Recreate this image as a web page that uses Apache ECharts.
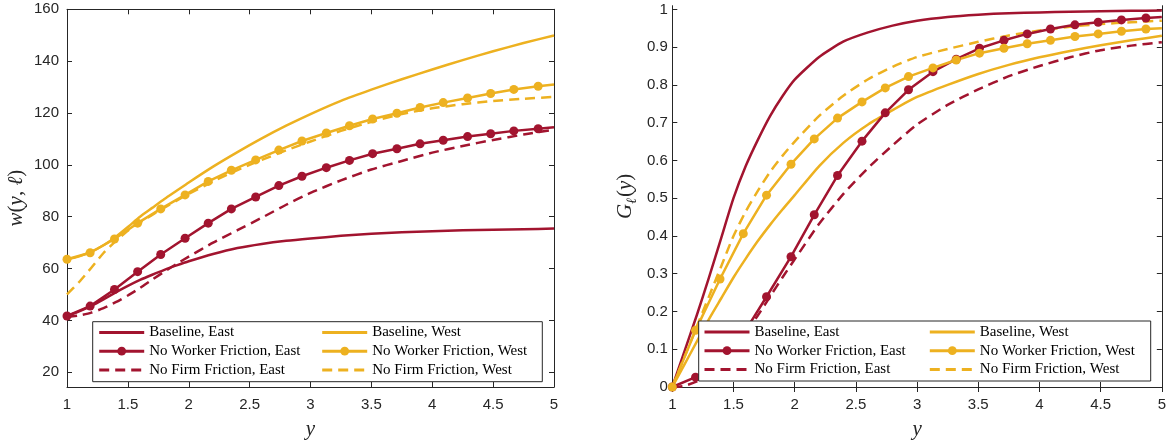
<!DOCTYPE html>
<html>
<head>
<meta charset="utf-8">
<script src="https://cdn.jsdelivr.net/npm/echarts@6/dist/echarts.min.js"></script>
<style>
  html, body { margin: 0; padding: 0; background: #fff; }
  #chart { width: 1169px; height: 445px; }
</style>
</head>
<body>
<div id="chart"></div>
<script>
// ---------- DATA ----------
const seriesNames = ['Baseline, East', 'No Worker Friction, East', 'No Firm Friction, East',
                     'Baseline, West', 'No Worker Friction, West', 'No Firm Friction, West'];

// x positions of the marker series (last point = line end, drawn without marker)
const markX = [1.00, 1.19, 1.39, 1.58, 1.77, 1.97, 2.16, 2.35, 2.55, 2.74, 2.93, 3.13, 3.32, 3.51, 3.71, 3.90, 4.09, 4.29, 4.48, 4.67, 4.87, 5.00];
// x grid of the smooth curves
const gridX = [1, 1.1, 1.2, 1.3, 1.4, 1.5, 1.6, 1.7, 1.8, 1.9, 2, 2.2, 2.4, 2.6, 2.8, 3, 3.25, 3.5, 3.75, 4, 4.25, 4.5, 4.75, 5];

// Left panel: w(y, l)
const wBaseEast   = [41.7, 43.5, 45.6, 48.1, 50.8, 53.3, 55.6, 57.6, 59.5, 61.2, 62.8, 65.6, 67.9, 69.5, 70.7, 71.6, 72.6, 73.4, 74.0, 74.4, 74.8, 75.0, 75.2, 75.4];
const wNoWorkEast = [41.7, 45.5, 51.9, 58.8, 65.4, 71.7, 77.5, 83.0, 87.6, 92.0, 95.6, 98.9, 101.7, 104.3, 106.2, 108.1, 109.5, 110.9, 112.0, 113.1, 113.9, 114.5];
const wNoFirmEast = [41.3, 41.9, 43.0, 44.7, 47.0, 49.6, 52.5, 55.7, 58.8, 61.8, 64.6, 70.0, 74.8, 79.6, 84.6, 89.2, 94.0, 98.2, 101.5, 104.7, 107.3, 109.6, 111.7, 113.6];
const wBaseWest   = [63.5, 64.7, 66.5, 69.0, 72.2, 76.0, 80.0, 83.4, 86.8, 90.0, 93.2, 99.3, 104.9, 110.2, 115.1, 119.6, 124.7, 129.0, 133.0, 136.8, 140.4, 143.8, 147.0, 149.9];
const wNoWorkWest = [63.6, 66.1, 71.4, 77.5, 83.0, 88.4, 93.6, 97.9, 101.9, 105.7, 109.2, 112.3, 115.1, 117.7, 119.9, 122.1, 124.0, 125.8, 127.5, 129.1, 130.3, 131.0];
const wNoFirmWest = [50.0, 54.8, 60.3, 66.0, 70.6, 74.6, 77.8, 80.7, 83.5, 86.2, 88.8, 93.6, 98.0, 101.9, 105.6, 109.0, 113.1, 116.6, 119.6, 121.8, 123.4, 124.6, 125.5, 126.2];

// Right panel: G_l(y)
const gBaseEast   = [0, 0.095, 0.19, 0.29, 0.395, 0.50, 0.585, 0.655, 0.718, 0.77, 0.814, 0.874, 0.915, 0.939, 0.957, 0.970, 0.980, 0.986, 0.990, 0.992, 0.994, 0.995, 0.996, 0.997];
const gNoWorkEast = [0, 0.026, 0.06, 0.14, 0.239, 0.345, 0.456, 0.560, 0.651, 0.726, 0.787, 0.835, 0.868, 0.897, 0.918, 0.935, 0.948, 0.959, 0.966, 0.972, 0.977, 0.980];
const gNoFirmEast = [0, 0.003, 0.015, 0.035, 0.065, 0.10, 0.145, 0.19, 0.24, 0.29, 0.338, 0.432, 0.512, 0.58, 0.64, 0.695, 0.747, 0.788, 0.823, 0.850, 0.873, 0.892, 0.904, 0.913];
const gBaseWest   = [0, 0.06, 0.12, 0.18, 0.235, 0.29, 0.34, 0.387, 0.43, 0.47, 0.508, 0.585, 0.647, 0.695, 0.733, 0.768, 0.800, 0.829, 0.853, 0.873, 0.890, 0.905, 0.918, 0.930];
const gNoWorkWest = [0, 0.150, 0.286, 0.406, 0.508, 0.590, 0.657, 0.712, 0.755, 0.792, 0.822, 0.845, 0.866, 0.884, 0.897, 0.909, 0.918, 0.928, 0.935, 0.942, 0.948, 0.950];
const gNoFirmWest = [0, 0.08, 0.16, 0.24, 0.32, 0.40, 0.465, 0.52, 0.57, 0.612, 0.65, 0.718, 0.772, 0.815, 0.848, 0.874, 0.895, 0.914, 0.931, 0.944, 0.954, 0.961, 0.966, 0.970];

const wTicks = [20, 40, 60, 80, 100, 120, 140, 160];
const gTicks = [0, 0.1, 0.2, 0.3, 0.4, 0.5, 0.6, 0.7, 0.8, 0.9, 1];

// ---------- STYLE ----------
const RED = '#A2142F';
const YEL = '#EDB120';
const AX = '#262626';
const LW = 2.5;
const DASH = [10, 6];

function curve(name, vals, color, dashed, gi) {
  return {
    name, type: 'line', xAxisIndex: gi * 2, yAxisIndex: gi * 2,
    data: gridX.map((x, i) => [x, vals[i]]),
    showSymbol: false, symbol: 'none', smooth: 0.2,
    lineStyle: { color, width: LW, type: dashed ? DASH : 'solid', join: 'round' },
    itemStyle: { color },
    emphasis: { disabled: true }, z: 2
  };
}
function markerCurve(name, vals, color, gi) {
  return {
    name, type: 'line', xAxisIndex: gi * 2, yAxisIndex: gi * 2,
    data: markX.map((x, i) => i < markX.length - 1 ? [x, vals[i]] : { value: [x, vals[i]], symbol: 'none' }),
    symbol: 'circle', symbolSize: 9, showSymbol: true, showAllSymbol: true,
    lineStyle: { color, width: LW, join: 'round' },
    itemStyle: { color },
    emphasis: { disabled: true }, z: 3
  };
}

const tickLabel = { color: AX, fontFamily: 'Liberation Sans', fontSize: 15 };
const mathName = {
  i: { fontFamily: 'Liberation Serif', fontStyle: 'italic', fontSize: 21, color: AX, lineHeight: 28 },
  r: { fontFamily: 'Liberation Serif', fontSize: 21, color: AX, lineHeight: 28 },
  s: { fontFamily: 'Liberation Serif', fontStyle: 'italic', fontSize: 14, color: AX, lineHeight: 28, verticalAlign: 'bottom', padding: [0, 1, 0, 0] }
};

function xAxes(gi) {
  return [
    { type: 'value', gridIndex: gi, min: 1, max: 5, interval: 0.5, position: 'bottom',
      axisLine: { lineStyle: { color: AX, width: 1 } },
      axisTick: { inside: true, length: 5, lineStyle: { color: AX } },
      axisLabel: Object.assign({ margin: 10 }, tickLabel),
      splitLine: { show: false },
      name: 'y', nameLocation: 'middle', nameGap: 32,
      nameTextStyle: { fontFamily: 'Liberation Serif', fontStyle: 'italic', fontSize: 21, color: AX } },
    { type: 'value', gridIndex: gi, min: 1, max: 5, interval: 0.5, position: 'top',
      axisLine: { lineStyle: { color: AX, width: 1 } },
      axisTick: { inside: true, length: 5, lineStyle: { color: AX } },
      axisLabel: { show: false }, splitLine: { show: false } }
  ];
}
function yAxes(gi, min, max, ticks, name, nameGap, labelMargin) {
  return [
    { type: 'value', gridIndex: gi, min, max, position: 'left',
      axisLine: { show: true, lineStyle: { color: AX, width: 1 } },
      axisTick: { show: true, inside: true, length: 5, lineStyle: { color: AX }, customValues: ticks },
      axisLabel: Object.assign({ margin: labelMargin, customValues: ticks }, tickLabel),
      splitLine: { show: false },
      name, nameLocation: 'middle', nameGap, nameRotate: 90,
      nameTextStyle: { rich: mathName } },
    { type: 'value', gridIndex: gi, min, max, position: 'right',
      axisLine: { show: true, lineStyle: { color: AX, width: 1 } },
      axisTick: { show: true, inside: true, length: 5, lineStyle: { color: AX }, customValues: ticks },
      axisLabel: { show: false }, splitLine: { show: false } }
  ];
}

// legend entries: lines without marker get an invisible symbol
function legendData(names) {
  return names.map(n => n.indexOf('No Worker') === 0 ? { name: n } : { name: n, itemStyle: { opacity: 0 } });
}
function legend(left, top, names) {
  return {
    orient: 'vertical', left, top, padding: 0, itemGap: 3.7,
    itemWidth: 45, itemHeight: 11, z: 20, selectedMode: false,
    data: legendData(names),
    lineStyle: { width: 3 },
    textStyle: { fontFamily: 'Liberation Serif', fontSize: 15, color: '#000', lineHeight: 15 }
  };
}

const option = {
  animation: false,
  backgroundColor: '#fff',
  grid: [
    { left: 67, top: 9.3, width: 487, height: 384 },
    { left: 672.3, top: 5.7, width: 490.7, height: 387.6 }
  ],
  xAxis: [...xAxes(0), ...xAxes(1)],
  yAxis: [
    ...yAxes(0, 14.3, 160, wTicks, '{i|w}{r|(}{i|y}{r|, }{i|ℓ}{r|)}', 37, 8),
    ...yAxes(1, 0, 1.0097, gTicks, '{i|G}{s|ℓ}{r|(}{i|y}{r|)}', 33, 4.5)
  ],
  legend: [
    legend(97.7, 325, seriesNames.slice(0, 3)),
    legend(320.7, 325, seriesNames.slice(3)),
    legend(703, 324.5, seriesNames.slice(0, 3)),
    legend(928.3, 324.5, seriesNames.slice(3))
  ],
  graphic: [
    { type: 'rect', z: 10, shape: { x: 92.7, y: 321.7, width: 449.6, height: 60 },
      style: { fill: '#fff', stroke: AX, lineWidth: 1 } },
    { type: 'rect', z: 10, shape: { x: 698.7, y: 321, width: 452, height: 60 },
      style: { fill: '#fff', stroke: AX, lineWidth: 1 } }
  ],
  series: [
    curve(seriesNames[0], wBaseEast, RED, false, 0),
    markerCurve(seriesNames[1], wNoWorkEast, RED, 0),
    curve(seriesNames[2], wNoFirmEast, RED, true, 0),
    curve(seriesNames[3], wBaseWest, YEL, false, 0),
    markerCurve(seriesNames[4], wNoWorkWest, YEL, 0),
    curve(seriesNames[5], wNoFirmWest, YEL, true, 0),
    curve(seriesNames[0], gBaseEast, RED, false, 1),
    markerCurve(seriesNames[1], gNoWorkEast, RED, 1),
    curve(seriesNames[2], gNoFirmEast, RED, true, 1),
    curve(seriesNames[3], gBaseWest, YEL, false, 1),
    markerCurve(seriesNames[4], gNoWorkWest, YEL, 1),
    curve(seriesNames[5], gNoFirmWest, YEL, true, 1)
  ]
};

const chart = echarts.init(document.getElementById('chart'), null, { renderer: 'canvas' });
chart.setOption(option);
</script>
</body>
</html>
